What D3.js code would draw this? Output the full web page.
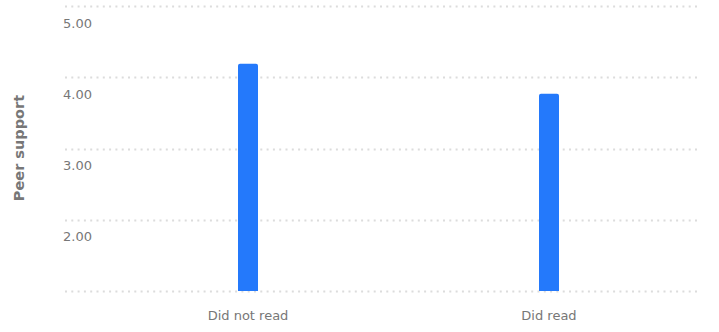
<!DOCTYPE html>
<html>
<head>
<meta charset="utf-8">
<script src="https://cdn.jsdelivr.net/npm/d3@7"></script>
<style>
  html, body { margin: 0; padding: 0; background: #fff; }
  svg { display: block; font-family: "DejaVu Sans", sans-serif; }
</style>
</head>
<body>
<svg id="chart" width="719" height="332"></svg>
<script>
const categories = ["Did not read", "Did read"];
const values = [4.19, 3.77];
const yTicks = [1, 2, 3, 4, 5];
const yTickLabels = ["", "2.00", "3.00", "4.00", "5.00"];
const yTitle = "Peer support";

const svg = d3.select("#chart");
const gridLeft = 65, gridRight = 698;
const y = d3.scaleLinear().domain([1, 5]).range([291, 6]);
const x = d3.scaleBand().domain(categories).range([97.5, 699.5]);
const barW = 20;

// gridlines
const grid = svg.append("g");
grid.selectAll("line").data(yTicks).join("line")
  .attr("x1", gridLeft).attr("x2", gridRight)
  .attr("y1", d => Math.round(y(d)) + 0.5).attr("y2", d => Math.round(y(d)) + 0.5)
  .attr("stroke", "#dcdcdc").attr("stroke-width", 2)
  .attr("stroke-dasharray", "2,4.3");

// tick labels (below lines)
svg.append("g").selectAll("text").data(yTicks).join("text")
  .attr("x", 63)
  .attr("y", d => y(d) + 21.5)
  .attr("fill", "#777")
  .attr("font-size", 13)
  .text((d, i) => yTickLabels[i]);

// bars
svg.append("g").selectAll("path").data(values).join("path")
  .attr("fill", "#2479fb")
  .attr("d", (d, i) => {
    const x0 = x(categories[i]) + x.bandwidth() / 2 - barW / 2;
    const y0 = y(d), y1 = y(1), r = 2;
    return `M${x0},${y1}V${y0 + r}Q${x0},${y0} ${x0 + r},${y0}H${x0 + barW - r}Q${x0 + barW},${y0} ${x0 + barW},${y0 + r}V${y1}Z`;
  });

// x labels
svg.append("g").selectAll("text").data(categories).join("text")
  .attr("x", d => x(d) + x.bandwidth() / 2)
  .attr("y", 320)
  .attr("text-anchor", "middle")
  .attr("fill", "#777")
  .attr("font-size", 13)
  .text(d => d);

// y title
svg.append("text")
  .attr("transform", `translate(24,148) rotate(-90)`)
  .attr("text-anchor", "middle")
  .attr("fill", "#777")
  .attr("font-size", 14.5)
  .attr("font-weight", "bold")
  .text(yTitle);
</script>
</body>
</html>
